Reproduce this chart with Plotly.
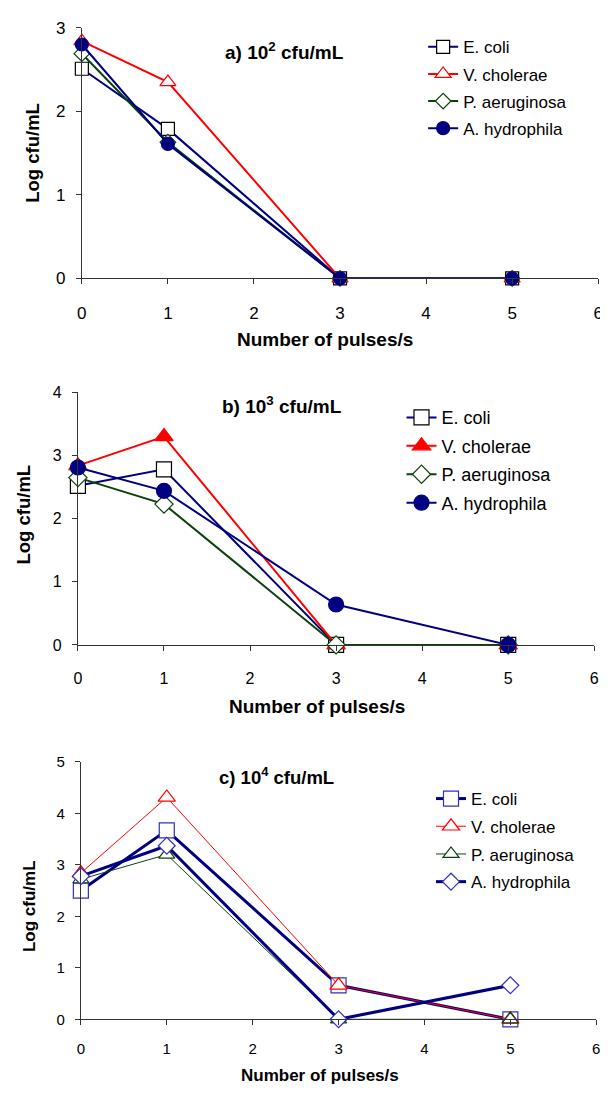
import plotly.graph_objects as go

x_pulses = [0, 1, 3, 5]
species = ["E. coli", "V. cholerae", "P. aeruginosa", "A. hydrophila"]

# Panel a) 10^2 cfu/mL
a_ecoli = [2.51, 1.79, 0, 0]
a_vchol = [2.84, 2.35, 0, 0]
a_paer = [2.69, 1.63, 0, 0]
a_ahyd = [2.80, 1.61, 0, 0]

# Panel b) 10^3 cfu/mL
b_ecoli = [2.52, 2.78, 0, 0]
b_vchol = [2.84, 3.30, 0, 0]
b_paer = [2.65, 2.23, 0, 0]
b_ahyd = [2.81, 2.44, 0.64, 0]

# Panel c) 10^4 cfu/mL
c_ecoli = [2.50, 3.67, 0.66, 0]
c_vchol = [2.84, 4.31, 0.66, 0]
c_paer = [2.72, 3.20, 0, 0]
c_ahyd = [2.78, 3.37, 0, 0.66]

panel_titles = ["a) 10<sup>2</sup> cfu/mL", "b) 10<sup>3</sup> cfu/mL", "c) 10<sup>4</sup> cfu/mL"]
x_ticks = [0, 1, 2, 3, 4, 5, 6]

NAVY = "#000080"
RED = "#FF0000"
GREEN = "#0B420B"
BLUEMK = "#3030C0"
FONT = "Liberation Sans, Arial, sans-serif"

W, H = 608, 1095
OFF = 8  # page body margin offset of the rendered html

fig = go.Figure()

def add(x, y, name, line_color, lw, symbol, msize, mfill, mline, axis, legend):
    fig.add_trace(go.Scatter(
        x=x, y=y, name=name, mode="lines+markers",
        line=dict(color=line_color, width=lw),
        marker=dict(symbol=symbol, size=msize, color=mfill,
                    line=dict(color=mline, width=1.2)),
        xaxis="x" + axis, yaxis="y" + axis,
        legend=legend, legendgroup=legend + name,
        cliponaxis=False,
    ))

# panel a
add(x_pulses, a_ecoli, species[0], NAVY, 2, "square", 13, "white", "black", "", "legend")
add(x_pulses, a_vchol, species[1], RED, 2, "triangle-up", 14, "white", RED, "", "legend")
add(x_pulses, a_paer, species[2], GREEN, 2, "diamond", 12, "white", GREEN, "", "legend")
add(x_pulses, a_ahyd, species[3], NAVY, 2, "circle", 13, NAVY, NAVY, "", "legend")
# panel b
add(x_pulses, b_ecoli, species[0], NAVY, 2, "square", 15, "white", "black", "2", "legend2")
add(x_pulses, b_vchol, species[1], RED, 2, "triangle-up", 16, RED, RED, "2", "legend2")
add(x_pulses, b_paer, species[2], GREEN, 2, "diamond", 14, "white", GREEN, "2", "legend2")
add(x_pulses, b_ahyd, species[3], NAVY, 2, "circle", 15, NAVY, NAVY, "2", "legend2")
# panel c
add(x_pulses, c_ecoli, species[0], NAVY, 3, "square", 15, "white", BLUEMK, "3", "legend3")
add(x_pulses, c_vchol, species[1], RED, 1, "triangle-up", 15, "white", RED, "3", "legend3")
add(x_pulses, c_paer, species[2], GREEN, 1, "triangle-up", 14, "white", GREEN, "3", "legend3")
add(x_pulses, c_ahyd, species[3], NAVY, 3, "diamond", 13, "white", BLUEMK, "3", "legend3")

def px_x(p):
    return (p - OFF) / W

def px_y(p):
    return 1 - (p - OFF) / H

panels = [
    dict(x0=78, x1=603, yt=19, yb=274, ymax=3, tf=17, ttl=19, xttl=19, yttl=18.5,
         lf=17, lx=425, ly=20.5, gap=2, xstand=14,
         title_x=222, title_y=43, xt_x=325, xt_y=336, yt_x=27, yt_dy=0),
    dict(x0=74, x1=599, yt=390, yb=647, ymax=4, tf=16, ttl=19, xttl=19, yttl=18.5,
         lf=18, lx=403, ly=397, gap=2, xstand=14,
         title_x=218, title_y=403, xt_x=317, xt_y=710, yt_x=19, yt_dy=-4),
    dict(x0=77, x1=601, yt=766, yb=1028, ymax=5, tf=15, ttl=18.5, xttl=17, yttl=17,
         lf=17, lx=433, ly=785.5, gap=2.6, xstand=11,
         title_x=215, title_y=780, xt_x=320, xt_y=1085, yt_x=25, yt_dy=16),
]

annotations = []
for i, p in enumerate(panels):
    sfx = "" if i == 0 else str(i + 1)
    xa = dict(
        domain=[px_x(p["x0"]), px_x(p["x1"])], range=[0, 6], tickvals=x_ticks,
        ticks="outside", ticklen=5, tickcolor="#333", showline=True, linecolor="#333",
        linewidth=1, showgrid=False, zeroline=False,
        tickfont=dict(family=FONT, size=p["tf"], color="black"),
        ticklabelstandoff=p["xstand"], anchor="y" + sfx, fixedrange=True,
    )
    ya = dict(
        domain=[px_y(p["yb"]), px_y(p["yt"])], range=[0, p["ymax"]], dtick=1,
        ticks="outside", ticklen=5, tickcolor="#333", showline=True, linecolor="#333",
        linewidth=1, showgrid=False, zeroline=False,
        tickfont=dict(family=FONT, size=p["tf"], color="black"),
        ticklabelstandoff=7, anchor="x" + sfx, fixedrange=True,
    )
    fig.layout["xaxis" + sfx] = xa
    fig.layout["yaxis" + sfx] = ya
    leg = dict(
        x=px_x(p["lx"]), y=px_y(p["ly"]), xanchor="left", yanchor="top",
        bgcolor="rgba(0,0,0,0)", borderwidth=0,
        font=dict(family=FONT, size=p["lf"], color="black"),
        itemwidth=30, tracegroupgap=p["gap"], itemclick=False, itemdoubleclick=False,
    )
    fig.layout["legend" + ("" if i == 0 else str(i + 1))] = leg
    annotations.append(dict(
        text="<b>" + panel_titles[i] + "</b>", x=px_x(p["title_x"]), y=px_y(p["title_y"]),
        xref="paper", yref="paper", xanchor="left", yanchor="middle", showarrow=False,
        font=dict(family=FONT, size=p["ttl"], color="black"),
    ))
    annotations.append(dict(
        text="<b>Number of pulses/s</b>", x=px_x(p["xt_x"]), y=px_y(p["xt_y"]),
        xref="paper", yref="paper", xanchor="center", yanchor="middle", showarrow=False,
        font=dict(family=FONT, size=p["xttl"], color="black"),
    ))
    annotations.append(dict(
        text="<b>Log cfu/mL</b>", x=px_x(p["yt_x"]),
        y=px_y((p["yt"] + p["yb"]) / 2 + p["yt_dy"]),
        xref="paper", yref="paper", xanchor="center", yanchor="middle", showarrow=False,
        textangle=-90, font=dict(family=FONT, size=p["yttl"], color="black"),
    ))

fig.update_layout(
    width=W, height=H, margin=dict(l=0, r=0, t=0, b=0),
    paper_bgcolor="white", plot_bgcolor="white",
    annotations=annotations, showlegend=True,
    font=dict(family=FONT),
)

fig.write_html("out.html")
